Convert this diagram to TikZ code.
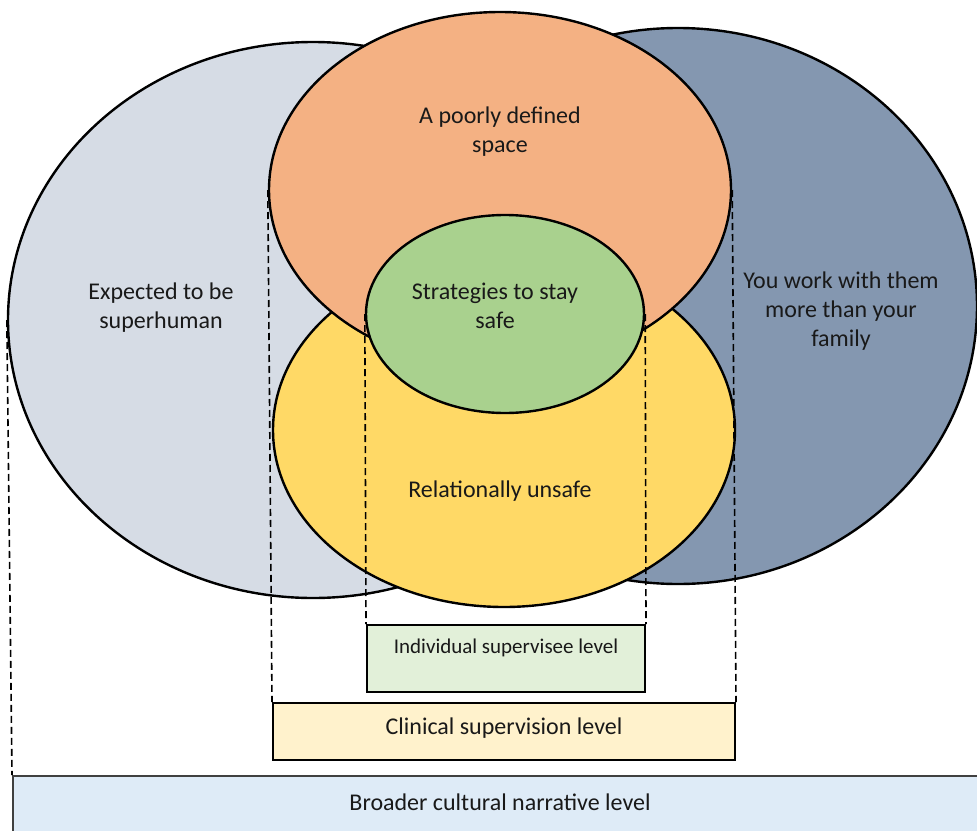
\documentclass[tikz,border=0pt]{standalone}
\usepackage{fontspec}
\setmainfont{Carlito}
\usetikzlibrary{shapes.geometric}
\definecolor{softgrey}{HTML}{D6DCE5}
\definecolor{slateblue}{HTML}{8497B0}
\definecolor{peach}{HTML}{F4B183}
\definecolor{sunny}{HTML}{FFD966}
\definecolor{leaf}{HTML}{A9D18E}
\definecolor{paleleaf}{HTML}{E2F0D9}
\definecolor{cream}{HTML}{FFF2CC}
\definecolor{palesky}{HTML}{DEEBF7}

\begin{document}
\begin{tikzpicture}[x=1pt, y=-1pt,
  ring/.style={ellipse, draw=black, line width=2.4pt, inner sep=0pt},
  lvlbox/.style={rectangle, draw=black, line width=2pt, inner sep=0pt},
  txt/.style={align=center, inner sep=0pt, text=black!90,
              font=\fontsize{24}{29}\selectfont},
  guide/.style={line width=1.6pt, dash pattern=on 7pt off 4pt},
]
\useasboundingbox (0,0) rectangle (977,830);
\clip (0,0) rectangle (977,830);

% Outer circles
\node[ring, fill=softgrey, minimum width=610, minimum height=556] (self) at (313,320) {};
\node[ring, fill=slateblue, minimum width=598, minimum height=556] (work) at (678,306) {};

% Middle circles
\node[ring, fill=sunny, minimum width=462, minimum height=354] (unsafe) at (504,430) {};
\node[ring, fill=peach, minimum width=462, minimum height=356] (space) at (500,190) {};

% Inner circle
\node[ring, fill=leaf, minimum width=278, minimum height=198] (safe) at (505,314) {};

% Level boxes
\node[lvlbox, fill=paleleaf, minimum width=278, minimum height=67] (indiv) at (506,658.5) {};
\node[lvlbox, fill=cream, minimum width=462, minimum height=57] (clin) at (504,731.5) {};
\node[lvlbox, fill=palesky, draw=black!75, minimum width=977, minimum height=64] (broad) at (501.5,808) {};

% Guides from circles down to their level
\draw[guide] (self.west) -- (broad.north west);
\draw[guide] (space.west) -- (clin.north west);
\draw[guide] (space.east) -- (clin.north east);
\draw[guide] (safe.west) -- (indiv.north west);
\draw[guide] (safe.east) -- (indiv.north east);

% Labels
\node[txt] (selftxt) at (161,308) {Expected to be\\superhuman};
\node[txt] (worktxt) at (841,311) {You work with them\\more than your\\family};
\node[txt] (spacetxt) at (500,131.5) {A poorly defined\\space};
\node[txt] (safetxt) at (495,306) {Strategies to stay\\safe};
\node[txt] (unsafetxt) at (500,491) {Relationally unsafe};
\node[txt, font=\fontsize{21}{25}\selectfont] (indivtxt) at (506,648) {Individual supervisee level};
\node[txt] (clintxt) at (504,728) {Clinical supervision level};
\node[txt] (broadtxt) at (500,802) {Broader cultural narrative level};

\end{tikzpicture}
\end{document}
